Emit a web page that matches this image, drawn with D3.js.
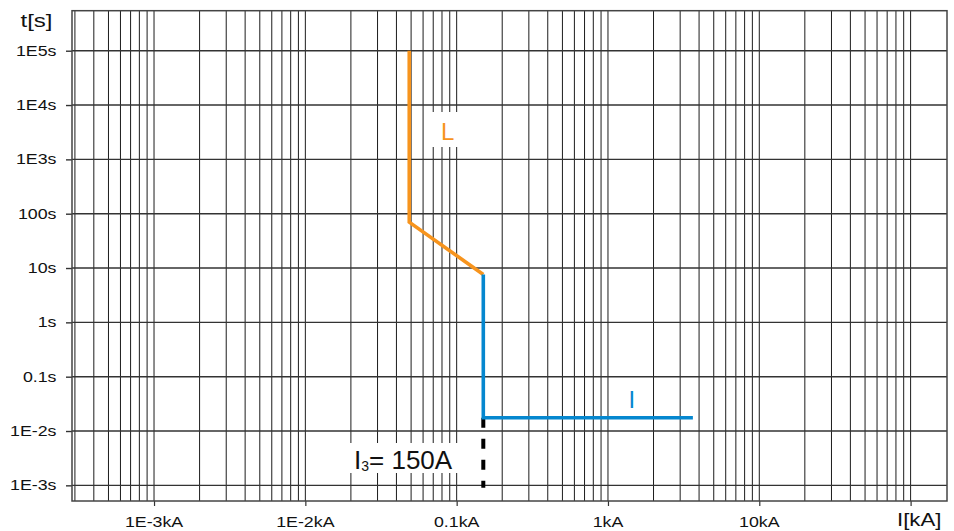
<!DOCTYPE html>
<html>
<head>
<meta charset="utf-8">
<script src="https://cdn.jsdelivr.net/npm/d3@7"></script>
<style>
  html, body { margin: 0; padding: 0; background: #fff; }
  svg { display: block; font-family: "Liberation Sans", Arial, Helvetica, sans-serif; }
</style>
</head>
<body>
<svg id="chart" width="954" height="531"></svg>
<script>
// ---- data ----
const xTickValues = [0.001, 0.01, 0.1, 1, 10, 100];
const xTickLabels = ["1E-3kA", "1E-2kA", "0.1kA", "1kA", "10kA", ""];
const yTickValues = [1e-3, 1e-2, 0.1, 1, 10, 100, 1e3, 1e4, 1e5];
const yTickLabels = ["1E-3s", "1E-2s", "0.1s", "1s", "10s", "100s", "1E3s", "1E4s", "1E5s"];
const xDomain = [2.87e-4, 174];
const yDomain = [5.45e5, 5.15e-4];

// L (long-time) curve, current in kA, time in s
const lCurveI = [0.0486, 0.0486, 0.15];
const lCurveT = [1e5, 70, 7.6];
// I (instantaneous) curve
const iCurveI = [0.15, 0.15, 3.64];
const iCurveT = [7.6, 0.0175, 0.0175];
// I3 marker (dashed)
const markerI = [0.15, 0.15];
const markerT = [0.0175, 0.0009];

const xTitle = "I[kA]";
const yTitle = "t[s]";

// ---- layout ----
const svg = d3.select("#chart");
const pLeft = 72, pTop = 10.7, pRight = 947, pBottom = 501;
const stretch = 1.27;

const x = d3.scaleLog().domain(xDomain).range([pLeft, pRight]);
const y = d3.scaleLog().domain(yDomain).range([pTop, pBottom]);

// vertical grid: 1..9 multiples in each decade
const xGrid = [];
for (let e = -4; e <= 2; e++) {
  for (let m = 1; m <= 9; m++) {
    const v = m * Math.pow(10, e);
    if (v > xDomain[0] * 1.01 && v < xDomain[1] * 0.99) xGrid.push(v);
  }
}
const gGrid = svg.append("g");
gGrid.selectAll("line.v").data(xGrid).join("line")
  .attr("class", "v")
  .attr("x1", d => x(d)).attr("x2", d => x(d))
  .attr("y1", pTop).attr("y2", pBottom)
  .attr("stroke", "#1c1c1c").attr("stroke-width", 1);
gGrid.selectAll("line.h").data(yTickValues).join("line")
  .attr("class", "h")
  .attr("x1", pLeft).attr("x2", pRight)
  .attr("y1", d => y(d)).attr("y2", d => y(d))
  .attr("stroke", "#333").attr("stroke-width", 1.4);

// axes (ticks only)
svg.append("g").attr("transform", `translate(${pLeft},0)`)
  .call(d3.axisLeft(y).tickValues(yTickValues).tickFormat("").tickSize(6).tickSizeOuter(0))
  .call(g => g.select(".domain").remove())
  .call(g => g.selectAll(".tick line").attr("stroke", "#333").attr("stroke-width", 1.4));
svg.append("g").attr("transform", `translate(0,${pBottom})`)
  .call(d3.axisBottom(x).tickValues(xTickValues).tickFormat("").tickSize(5).tickSizeOuter(0))
  .call(g => g.select(".domain").remove())
  .call(g => g.selectAll(".tick line").attr("stroke", "#333").attr("stroke-width", 1.2));

// border
svg.append("rect")
  .attr("x", pLeft).attr("y", pTop)
  .attr("width", pRight - pLeft).attr("height", pBottom - pTop)
  .attr("fill", "none").attr("stroke", "#444").attr("stroke-width", 1.5);

// tick labels
svg.append("g").selectAll("text").data(yTickValues).join("text")
  .attr("transform", d => `translate(56.5,${y(d) + 5}) scale(${stretch},1)`)
  .attr("text-anchor", "end")
  .attr("font-size", 14).attr("fill", "#111")
  .text((d, i) => yTickLabels[i]);
svg.append("g").selectAll("text").data(xTickValues).join("text")
  .attr("transform", d => `translate(${x(d)},${527}) scale(${stretch},1)`)
  .attr("text-anchor", "middle")
  .attr("font-size", 14).attr("fill", "#111")
  .text((d, i) => xTickLabels[i]);

// axis titles
svg.append("text")
  .attr("transform", `translate(20.5,26.5) scale(1.3,1)`)
  .attr("font-size", 18.5).attr("fill", "#111").text(yTitle);
svg.append("text")
  .attr("transform", `translate(897,526) scale(1.2,1)`)
  .attr("font-size", 18.5).attr("fill", "#111").text(xTitle);

// label boxes
const orange = "#F7941D", blue = "#0587CF";
svg.append("rect").attr("x", 431).attr("y", 112).attr("width", 27).attr("height", 35).attr("fill", "#fff");
svg.append("rect").attr("x", 348).attr("y", 443).attr("width", 112).attr("height", 30).attr("fill", "#fff");

svg.append("text").attr("x", 441).attr("y", 139.5)
  .attr("font-size", 24).attr("fill", orange).text("L");
svg.append("text").attr("x", 628.5).attr("y", 407.5)
  .attr("font-size", 24).attr("fill", blue).text("I");

const t3 = svg.append("text").attr("x", 354).attr("y", 468.5)
  .attr("font-size", 26).attr("fill", "#111");
t3.append("tspan").text("I");
t3.append("tspan").attr("font-size", 14).attr("dy", 2.4).text("3");
t3.append("tspan").attr("dy", -2.4).text("= 150A");

// curves
const line = d3.line().x(d => x(d[0])).y(d => y(d[1]));
svg.append("path")
  .datum(d3.zip(markerI, markerT))
  .attr("d", line)
  .attr("fill", "none").attr("stroke", "#000").attr("stroke-width", 4)
  .attr("stroke-dasharray", "10,11");
svg.append("path")
  .datum(d3.zip(lCurveI, lCurveT))
  .attr("d", line)
  .attr("fill", "none").attr("stroke", orange).attr("stroke-width", 3.6)
  .attr("stroke-linejoin", "miter");
svg.append("path")
  .datum(d3.zip(iCurveI, iCurveT))
  .attr("d", line)
  .attr("fill", "none").attr("stroke", blue).attr("stroke-width", 3.6)
  .attr("stroke-linejoin", "miter");
</script>
</body>
</html>
